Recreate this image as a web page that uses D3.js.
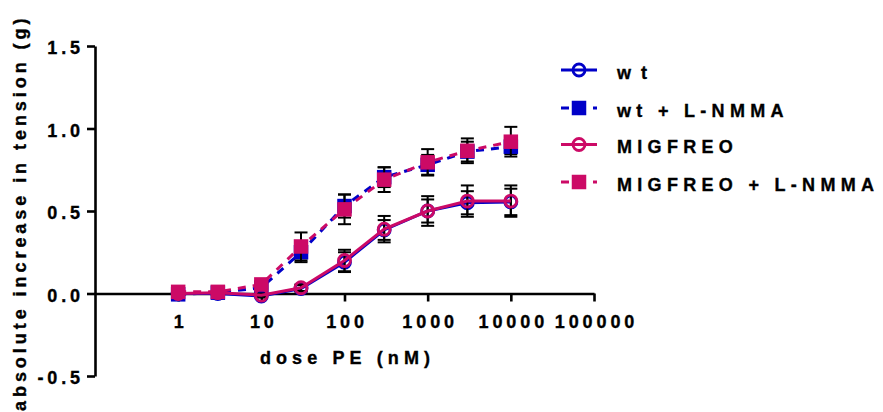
<!DOCTYPE html>
<html>
<head>
<meta charset="utf-8">
<script src="https://cdn.jsdelivr.net/npm/d3@7"></script>
<style>
  html, body { margin: 0; padding: 0; background: #fff; }
  svg { display: block; }
  text { font-family: "Liberation Sans", Arial, sans-serif; font-weight: bold; fill: #000;
         stroke: #000; stroke-width: 0.35px; }
</style>
</head>
<body>
<svg id="chart" width="883" height="412"></svg>
<script>
// Phenylephrine dose (nM)
const doses = [1, 3, 10, 30, 100, 300, 1000, 3000, 10000];

// Mean absolute increase in tension (g) and SEM per group
const wtMean      = [0.00, 0.00, -0.015, 0.03, 0.19, 0.385, 0.50, 0.55, 0.555];
const wtSem       = [0.01, 0.01, 0.01, 0.02, 0.06, 0.06, 0.07, 0.07, 0.08];
const wtLMean     = [-0.005, 0.005, 0.035, 0.25, 0.53, 0.705, 0.78, 0.86, 0.89];
const wtLSem      = [0.01, 0.01, 0.02, 0.06, 0.07, 0.06, 0.06, 0.06, 0.045];
const migMean     = [0.00, 0.005, -0.01, 0.035, 0.20, 0.39, 0.50, 0.56, 0.56];
const migSem      = [0.01, 0.01, 0.01, 0.02, 0.065, 0.08, 0.09, 0.095, 0.095];
const migLMean    = [0.01, 0.01, 0.055, 0.285, 0.51, 0.69, 0.795, 0.865, 0.92];
const migLSem     = [0.01, 0.01, 0.02, 0.085, 0.09, 0.075, 0.08, 0.075, 0.09];

const seriesNames = ["wt", "wt + L-NMMA", "MIGFREO", "MIGFREO + L-NMMA"];

// Axis ticks
const xTicks = [1, 10, 100, 1000, 10000, 100000];
const xTickLabels = ["1", "10", "100", "1000", "10000", "100000"];
const yTicks = [-0.5, 0, 0.5, 1.0, 1.5];
const yTickLabels = ["-0.5", "0.0", "0.5", "1.0", "1.5"];

const BLUE = "#0000c8";
const PINK = "#cc0a66";

const series = [
  { name: seriesNames[0], mean: wtMean,   sem: wtSem,   color: BLUE, dashed: false, symbol: "circle" },
  { name: seriesNames[1], mean: wtLMean,  sem: wtLSem,  color: BLUE, dashed: true,  symbol: "square" },
  { name: seriesNames[2], mean: migMean,  sem: migSem,  color: PINK, dashed: false, symbol: "circle" },
  { name: seriesNames[3], mean: migLMean, sem: migLSem, color: PINK, dashed: true,  symbol: "square" }
];

const svg = d3.select("#chart");

const x = d3.scaleLog().domain([0.1, 100000]).range([95, 594]);
const y = d3.scaleLinear().domain([-0.5, 1.5]).range([376, 46]);

const FS = 18;

// Y axis
const yAxis = svg.append("g")
  .attr("transform", `translate(${x.range()[0]},0)`)
  .call(d3.axisLeft(y).tickValues(yTicks).tickSize(8).tickSizeOuter(0).tickPadding(3)
        .tickFormat((d, i) => yTickLabels[i]));
yAxis.select(".domain").attr("stroke", "#000").attr("stroke-width", 2.6);
yAxis.selectAll(".tick line").attr("stroke", "#000").attr("stroke-width", 2.6);
yAxis.selectAll(".tick text")
  .attr("font-size", FS).style("letter-spacing", "3.9px")
  .attr("dy", "0.42em");

// X axis at y = 0
const xAxis = svg.append("g")
  .attr("transform", `translate(0,${y(0)})`)
  .call(d3.axisBottom(x).tickValues(xTicks).tickSize(8).tickSizeOuter(0).tickPadding(14)
        .tickFormat((d, i) => xTickLabels[i]));
xAxis.select(".domain").attr("stroke", "#000").attr("stroke-width", 2.6);
xAxis.selectAll(".tick line").attr("stroke", "#000").attr("stroke-width", 2.6);
xAxis.selectAll(".tick text")
  .attr("font-size", FS).style("letter-spacing", "3.9px")
  .attr("dx", "2px");

// Axis titles
svg.append("text")
  .attr("x", (x.range()[0] + x.range()[1]) / 2 + 3)
  .attr("y", 364)
  .attr("text-anchor", "middle")
  .attr("font-size", FS)
  .style("letter-spacing", "5.1px")
  .text("dose PE (nM)");

svg.append("text")
  .attr("transform", "translate(26,411) rotate(-90)")
  .attr("text-anchor", "start")
  .attr("font-size", FS)
  .style("letter-spacing", "3.95px")
  .text("absolute increase in tension (g)");

// Data
const plot = svg.append("g");
const line = d3.line().x(d => x(d.dose)).y(d => y(d.value));
const CAP = 6.5;
const SQ = 14.5;
const R = 6;

function drawSymbol(g, s, cx, cy) {
  if (s.symbol === "square") {
    g.append("rect")
      .attr("x", cx - SQ / 2).attr("y", cy - SQ / 2)
      .attr("width", SQ).attr("height", SQ)
      .attr("fill", s.color);
  } else {
    g.append("circle")
      .attr("cx", cx).attr("cy", cy).attr("r", R)
      .attr("fill", "none").attr("stroke", s.color).attr("stroke-width", 2.8);
  }
}

series.forEach(s => {
  const pts = doses.map((d, i) => ({ dose: d, value: s.mean[i], sem: s.sem[i] }));
  const g = plot.append("g");

  // error bars
  const eb = g.append("g").attr("stroke", "#000").attr("stroke-width", 2);
  pts.forEach(p => {
    const cx = x(p.dose), top = y(p.value + p.sem), bot = y(p.value - p.sem);
    eb.append("line").attr("x1", cx).attr("x2", cx).attr("y1", top).attr("y2", bot);
    eb.append("line").attr("x1", cx - CAP).attr("x2", cx + CAP).attr("y1", top).attr("y2", top);
    eb.append("line").attr("x1", cx - CAP).attr("x2", cx + CAP).attr("y1", bot).attr("y2", bot);
  });

  // connecting line
  g.append("path")
    .datum(pts)
    .attr("d", line)
    .attr("fill", "none")
    .attr("stroke", s.color)
    .attr("stroke-width", 3)
    .attr("stroke-dasharray", s.dashed ? "8,7" : null);

  // symbols
  pts.forEach(p => drawSymbol(g, s, x(p.dose), y(p.value)));
});

// Legend
const legend = svg.append("g");
const legendY = [70, 108, 144.5, 182];
series.forEach((s, i) => {
  const ly = legendY[i];
  const lg = legend.append("g");
  lg.append("line")
    .attr("x1", 561).attr("x2", 597).attr("y1", ly).attr("y2", ly)
    .attr("stroke", s.color).attr("stroke-width", 3)
    .attr("stroke-dasharray", s.dashed ? "8,8" : null);
  drawSymbol(lg, s, 579, ly);
  lg.append("text")
    .attr("x", 617).attr("y", ly + 8.5)
    .attr("font-size", FS)
    .style("letter-spacing", i === 0 ? "10px" : "5.3px")
    .text(s.name);
});
</script>
</body>
</html>
